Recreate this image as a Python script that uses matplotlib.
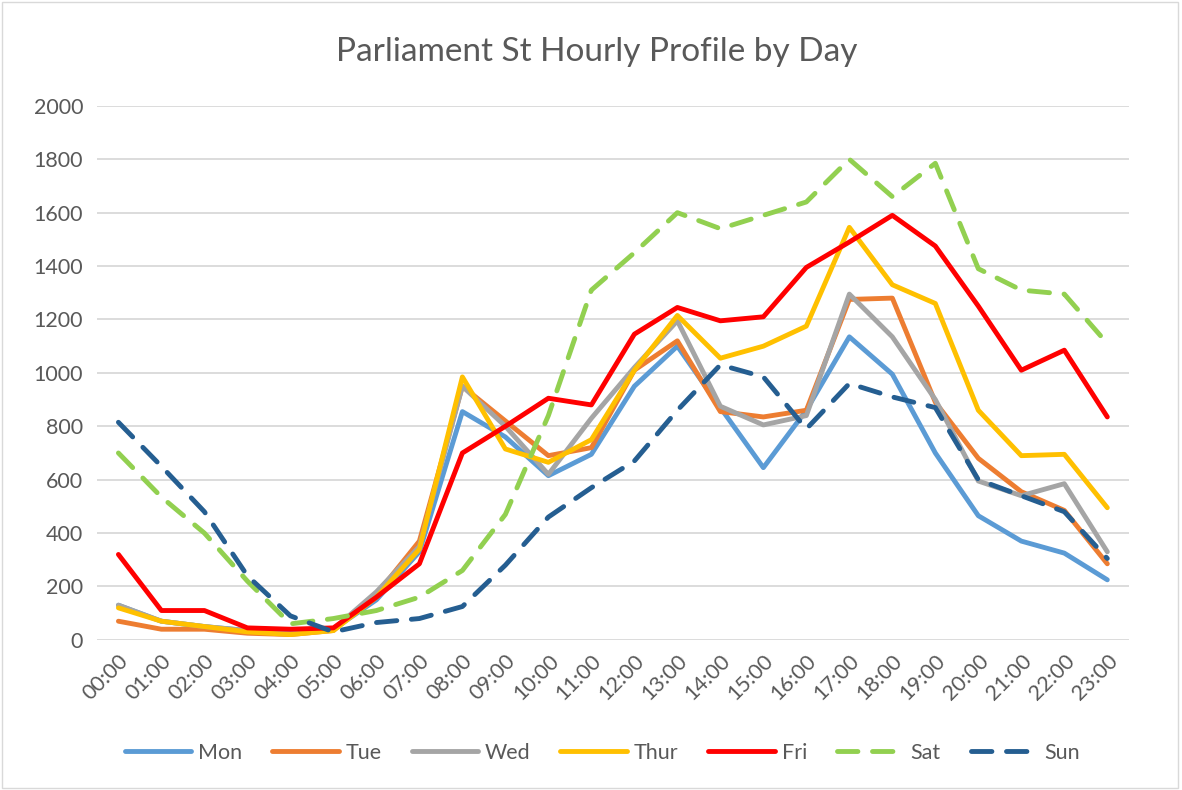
import matplotlib
matplotlib.use('Agg')
import matplotlib.pyplot as plt
from matplotlib.patches import Rectangle

plt.rcParams['font.family'] = ['Lato', 'DejaVu Sans']

hours = ['%02d:00' % h for h in range(24)]

mon = [130, 70, 50, 35, 25, 40, 150, 330, 855, 760, 615, 695, 950, 1100, 870, 645, 860, 1135, 995, 700, 465, 370, 325, 225]
tue = [70, 40, 40, 25, 20, 35, 170, 370, 950, 820, 690, 720, 1010, 1120, 855, 835, 860, 1275, 1280, 890, 680, 555, 485, 285]
wed = [130, 70, 50, 35, 25, 40, 180, 350, 950, 800, 620, 830, 1020, 1195, 875, 805, 840, 1295, 1135, 900, 595, 540, 585, 330]
thu = [120, 70, 50, 30, 20, 35, 160, 340, 985, 715, 665, 750, 1010, 1215, 1055, 1100, 1175, 1545, 1330, 1260, 860, 690, 695, 495]
fri = [320, 110, 110, 45, 40, 45, 160, 285, 700, 800, 905, 880, 1145, 1245, 1195, 1210, 1395, 1490, 1590, 1475, 1250, 1010, 1085, 835]
sat = [700, 535, 400, 220, 60, 80, 110, 160, 260, 470, 840, 1310, 1450, 1600, 1540, 1590, 1640, 1800, 1660, 1785, 1390, 1310, 1295, 1110]
sun = [815, 650, 480, 240, 90, 30, 65, 80, 125, 280, 460, 570, 670, 860, 1030, 985, 790, 960, 910, 870, 600, 540, 480, 305]

series = [
    ('Mon', mon, '#5B9BD5', '-'),
    ('Tue', tue, '#ED7D31', '-'),
    ('Wed', wed, '#A5A5A5', '-'),
    ('Thur', thu, '#FFC000', '-'),
    ('Fri', fri, '#FF0000', '-'),
    ('Sat', sat, '#92D050', '--'),
    ('Sun', sun, '#255E91', '--'),
]

fig = plt.figure(figsize=(11.82, 7.90), dpi=100)
ax = fig.add_axes([0.082, 0.19, 0.873, 0.676])

x = range(len(hours))
for name, vals, col, ls in series:
    if ls == '--':
        ax.plot(x, vals, color=col, lw=3.5, dashes=(4.2, 3.0), dash_capstyle='round',
                solid_joinstyle='round', label=name)
    else:
        ax.plot(x, vals, color=col, lw=3.5, solid_capstyle='round',
                solid_joinstyle='round', label=name)

ax.set_xlim(-0.5, 23.5)
ax.set_ylim(0, 2000)
ax.set_yticks(range(0, 2001, 200))
ax.set_xticks(list(x))
ax.set_xticklabels(hours, rotation=45, ha='right', rotation_mode='anchor')
ax.grid(axis='y', color='#D9D9D9', lw=1.3)
ax.set_axisbelow(True)
for s in ax.spines.values():
    s.set_visible(False)
ax.tick_params(axis='both', length=0, labelsize=15.5, colors='#595959', pad=10)
ax.tick_params(axis='x', pad=8)

fig.text(597 / 1182, 1 - 52 / 790, 'Parliament St Hourly Profile by Day', fontsize=24,
         color='#595959', ha='center', va='center')

leg = fig.legend(loc='center', bbox_to_anchor=(602 / 1182, 1 - 753 / 790), ncol=7, frameon=False,
                 fontsize=15.5, handlelength=3.1, columnspacing=1.4, handletextpad=0.3,
                 labelcolor='#595959')

fig.patches.append(Rectangle((0.002, 0.003), 0.995, 0.994, transform=fig.transFigure,
                             fill=False, edgecolor='#D9D9D9', lw=1))

fig.savefig('out.png', dpi=100)
